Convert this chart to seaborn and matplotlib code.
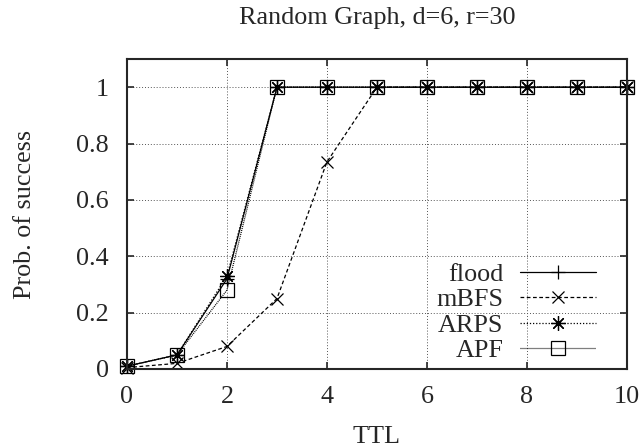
import pandas as pd
import matplotlib
matplotlib.use("Agg")
import matplotlib.pyplot as plt
import seaborn as sns

ttl = [0, 1, 2, 3, 4, 5, 6, 7, 8, 9, 10]
flood = [0.01, 0.05, 0.32, 1, 1, 1, 1, 1, 1, 1, 1]
mbfs = [0.005, 0.02, 0.08, 0.25, 0.735, 1, 1, 1, 1, 1, 1]
arps = [0.01, 0.05, 0.33, 1, 1, 1, 1, 1, 1, 1, 1]
apf = [0.01, 0.05, 0.28, 1, 1, 1, 1, 1, 1, 1, 1]

x_ticks = [0, 2, 4, 6, 8, 10]
y_ticks = [0, 0.2, 0.4, 0.6, 0.8, 1]
y_tick_labels = ["0", "0.2", "0.4", "0.6", "0.8", "1"]

sns.set_style("ticks")
plt.rcParams["font.family"] = "serif"
plt.rcParams["font.serif"] = ["Liberation Serif", "DejaVu Serif"]

FS = 18.8

fig = plt.figure(figsize=(6.43, 4.47), dpi=100)
ax = fig.add_axes([0.1975, 0.1745, 0.7775, 0.6935])

series = [
    ("flood", flood, "-", "+", 10, "black"),
    ("mBFS", mbfs, (0, (3, 2)), "x", 8.5, "black"),
    ("ARPS", arps, (0, (1, 1.5)), (8, 2, 0), 10.5, "black"),
    ("APF", apf, (0, (0.8, 0.8)), "s", 9.5, "none"),
]

for name, vals, ls, mk, ms, fc in series:
    df = pd.DataFrame({"TTL": ttl, "p": vals})
    sns.lineplot(data=df, x="TTL", y="p", ax=ax, color="black", linestyle=ls,
                 linewidth=0.9, marker=mk, markersize=ms, markerfacecolor=fc,
                 markeredgecolor="black", markeredgewidth=0.9, label=name,
                 clip_on=False)

ax.set_xlim(0, 10)
ax.set_ylim(0, 1.1)
ax.set_xticks(x_ticks)
ax.set_yticks(y_ticks)
ax.set_yticklabels(y_tick_labels)
ax.set_xticklabels([str(t) for t in x_ticks])
ax.grid(True, linestyle=(0, (1, 2)), color="#555555", linewidth=0.7)
ax.tick_params(direction="in", length=5, width=1.2, labelsize=FS, top=True,
               right=True)
ax.tick_params(axis="x", pad=12)
ax.tick_params(axis="y", pad=13)
for s in ax.spines.values():
    s.set_linewidth(1.5)
    s.set_visible(True)

ax.set_xlabel("TTL", fontsize=FS, labelpad=13)
ax.set_ylabel("Prob. of success", fontsize=FS, labelpad=29)
ax.set_title("Random Graph, d=6, r=30", fontsize=FS, pad=25)

ax.legend(loc="lower right", frameon=False, markerfirst=False, fontsize=FS,
          handlelength=2.9, handletextpad=0.65, labelspacing=0.08,
          borderaxespad=0.3, bbox_to_anchor=(0.975, -0.037))

fig.savefig("out.png", dpi=100)
